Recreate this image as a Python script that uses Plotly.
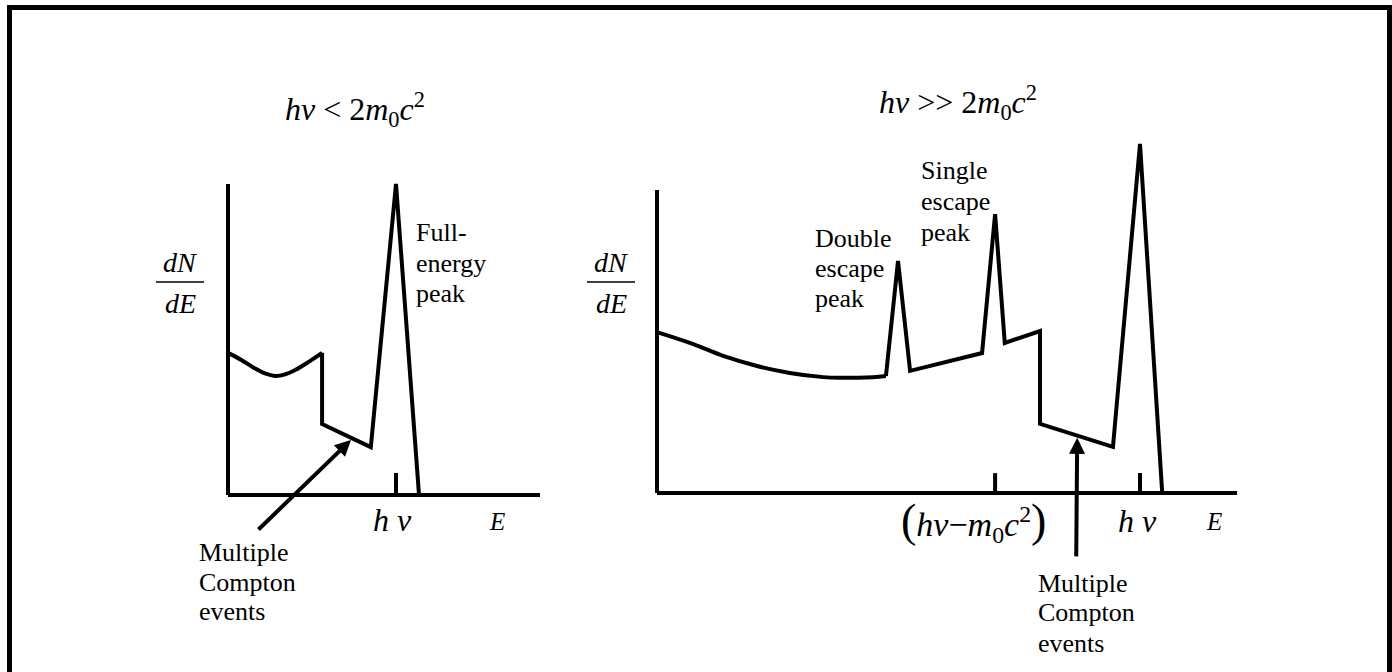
import plotly.graph_objects as go

W, H = 1392, 672
FONT = "Liberation Serif, Times New Roman, serif"

# ---- spectra: energy in units of hν, dN/dE in arbitrary units ----
# hν < 2 m0c² : Compton continuum, multiple-Compton region, full-energy peak
low_E = [0.0, 0.08, 0.16, 0.22, 0.28, 0.34, 0.40, 0.48, 0.56, 0.56, 0.85, 1.0, 1.137]
low_N = [0.457, 0.434, 0.407, 0.391, 0.383, 0.388, 0.402, 0.428, 0.457, 0.228, 0.154, 1.0, 0.0]
low_continuum_end = 8      # last point of the smooth Compton continuum

# hν >> 2 m0c² : continuum, double escape, single escape, multiple Compton, full-energy
high_E = [0.0, 0.068, 0.137, 0.207, 0.275, 0.344, 0.379, 0.447, 0.474, 0.499, 0.524,
          0.673, 0.70, 0.720, 0.793, 0.793, 0.944, 1.0, 1.046]
high_N = [0.461, 0.430, 0.393, 0.364, 0.344, 0.332, 0.330, 0.332, 0.335, 0.665, 0.350,
          0.401, 0.799, 0.430, 0.464, 0.198, 0.132, 1.0, 0.0]
high_continuum_end = 8

# marked energies on the E axes
low_ticks = [1.0]
high_ticks = [0.70, 1.0]
low_tick_labels = ["<i>h ν</i>"]
high_tick_labels = [
    '<span style="font-size:46px">(</span><i>hν</i>−<i>m</i><sub>0</sub><i>c</i><sup>2</sup>'
    '<span style="font-size:46px">)</span>',
    "<i>h ν</i>",
]

# drawn extent of the axis lines and tick length (data units)
low_axis = dict(E_max=1.857, N_max=1.0, tick=0.071)
high_axis = dict(E_max=1.201, N_max=0.868, tick=0.057)

# ---- panel placement: origin in pixels and pixels per data unit ----
PANELS = {
    "low": dict(ox=228, oy=495, sx=168, sy=311, xr=[-0.12, 2.0], yr=[-0.06, 1.06]),
    "high": dict(ox=657, oy=493, sx=483, sy=349, xr=[-0.06, 1.26], yr=[-0.06, 1.06]),
}


def x_domain(p):
    return [(p["ox"] + p["xr"][0] * p["sx"]) / W, (p["ox"] + p["xr"][1] * p["sx"]) / W]


def y_domain(p):
    return [1 - (p["oy"] - p["yr"][0] * p["sy"]) / H, 1 - (p["oy"] - p["yr"][1] * p["sy"]) / H]


def px(x):
    return x / W


def py(y):
    return 1 - y / H


LINE = dict(color="black", width=4)

fig = go.Figure()


def add_line(x, y, xa, ya, shape="linear"):
    fig.add_trace(go.Scatter(x=x, y=y, mode="lines", line=dict(LINE, shape=shape),
                             xaxis=xa, yaxis=ya, hoverinfo="skip", showlegend=False))


def draw_panel(E, N, split, ticks, axis, xa, ya):
    # smooth continuum, then the straight-edged part with the peaks
    add_line(E[:split + 1], N[:split + 1], xa, ya, shape="spline")
    add_line(E[split:], N[split:], xa, ya)
    # axes
    add_line([0, axis["E_max"]], [0, 0], xa, ya)
    add_line([0, 0], [0, axis["N_max"]], xa, ya)
    # tick marks
    tx, ty = [], []
    for t in ticks:
        tx += [t, t, None]
        ty += [0, axis["tick"], None]
    add_line(tx, ty, xa, ya)


draw_panel(low_E, low_N, low_continuum_end, low_ticks, low_axis, "x", "y")
draw_panel(high_E, high_N, high_continuum_end, high_ticks, high_axis, "x2", "y2")

annotations = []


def text(s, x, baseline, size, anchor="left"):
    annotations.append(dict(
        text=s, xref="paper", yref="paper", x=px(x), y=py(baseline - 0.34 * size),
        xanchor=anchor, yanchor="middle", showarrow=False,
        font=dict(family=FONT, size=size, color="black"),
    ))


def block(lines, x, baselines, size=26):
    for s, b in zip(lines, baselines):
        text(s, x, b, size)


# titles
text("<i>hν</i> &lt; 2<i>m</i><sub>0</sub><i>c</i><sup>2</sup>", 355, 120, 32, "center")
text("<i>hν</i> &gt;&gt; 2<i>m</i><sub>0</sub><i>c</i><sup>2</sup>", 958, 113, 32, "center")

# dN/dE labels with fraction bars
shapes = []
for cx in (180, 611):
    text("<i>dN</i>", cx, 272, 28, "center")
    text("<i>dE</i>", cx, 313, 28, "center")
    shapes.append(dict(type="line", xref="paper", yref="paper",
                       x0=px(cx - 24), x1=px(cx + 24), y0=py(282), y1=py(282),
                       line=dict(color="black", width=1.5)))

# peak / region labels
block(["Full-", "energy", "peak"], 414, [241, 272, 302])
block(["Double", "escape", "peak"], 813, [247, 277, 307])
block(["Single", "escape", "peak"], 919, [179, 210, 241])
block(["Multiple", "Compton", "events"], 197, [561, 591, 620])
block(["Multiple", "Compton", "events"], 1036, [592, 621, 652])

# energy-axis labels
text(low_tick_labels[0], 392, 531, 32, "center")
text("<i>E</i>", 497, 530, 25, "center")
text(high_tick_labels[0], 973, 533, 34, "center")
text(high_tick_labels[1], 1137, 532, 32, "center")
text("<i>E</i>", 1214, 530, 25, "center")

# arrows to the multiple-Compton regions
ARROW = dict(showarrow=True, text="", arrowhead=2, arrowsize=0.8, arrowwidth=4,
             arrowcolor="black", standoff=0, axref="pixel", ayref="pixel")
annotations.append(dict(xref="x", yref="y", x=0.732, y=0.177, ax=-94, ay=91, **ARROW))
annotations.append(dict(xref="x2", yref="y2", x=0.870, y=0.158, ax=-1, ay=120, **ARROW))

# outer frame
shapes.append(dict(type="rect", xref="paper", yref="paper",
                   x0=px(9.5), x1=px(1389.5), y0=py(700), y1=py(7.5),
                   line=dict(color="black", width=5)))

hidden = dict(visible=False, showgrid=False, zeroline=False, fixedrange=True)
fig.update_layout(
    width=W, height=H,
    margin=dict(l=0, r=0, t=0, b=0),
    paper_bgcolor="white", plot_bgcolor="rgba(0,0,0,0)",
    xaxis=dict(domain=x_domain(PANELS["low"]), range=PANELS["low"]["xr"], anchor="y", **hidden),
    yaxis=dict(domain=y_domain(PANELS["low"]), range=PANELS["low"]["yr"], anchor="x", **hidden),
    xaxis2=dict(domain=x_domain(PANELS["high"]), range=PANELS["high"]["xr"], anchor="y2", **hidden),
    yaxis2=dict(domain=y_domain(PANELS["high"]), range=PANELS["high"]["yr"], anchor="x2", **hidden),
    annotations=annotations,
    shapes=shapes,
    showlegend=False,
)

fig.write_html("out.html")
